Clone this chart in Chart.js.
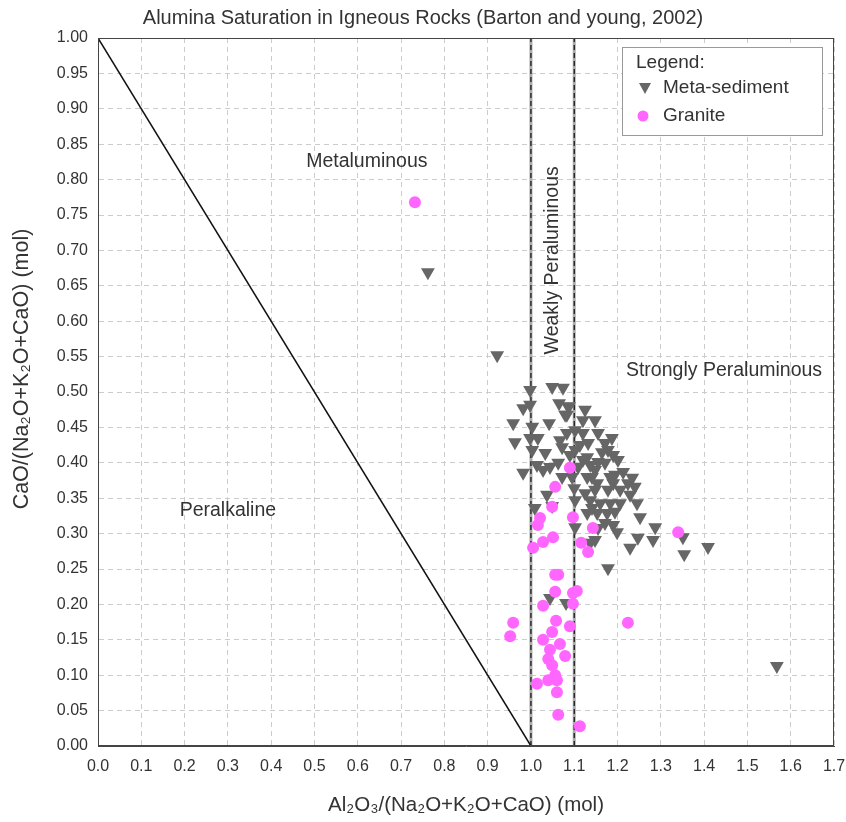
<!DOCTYPE html>
<html>
<head>
<meta charset="utf-8">
<script src="https://cdn.jsdelivr.net/npm/chart.js@4.4.0/dist/chart.umd.min.js"></script>
<style>
  html, body { margin: 0; padding: 0; background: #ffffff; }
  #wrap { width: 846px; height: 822px; }
</style>
</head>
<body>
<div id="wrap"><canvas id="c" width="846" height="822"></canvas></div>
<script>
const chartTitle = 'Alumina Saturation in Igneous Rocks (Barton and young, 2002)';
const xAxisTitle = 'Al\u2082O\u2083/(Na\u2082O+K\u2082O+CaO) (mol)';
const yAxisTitle = 'CaO/(Na\u2082O+K\u2082O+CaO) (mol)';
const seriesNames = ['Meta-sediment', 'Granite'];

const xTickLabels = ['0.0','0.1','0.2','0.3','0.4','0.5','0.6','0.7','0.8','0.9','1.0','1.1','1.2','1.3','1.4','1.5','1.6','1.7'];
const yTickLabels = ['0.00','0.05','0.10','0.15','0.20','0.25','0.30','0.35','0.40','0.45','0.50','0.55','0.60','0.65','0.70','0.75','0.80','0.85','0.90','0.95','1.00'];

// Meta-sediment samples
const metaX = [0.762,0.922,0.998,1.049,1.074,0.982,0.998,1.065,1.088,1.083,0.959,1.003,1.042,0.963,0.998,1.016,1.003,1.033,0.982,1.014,1.028,1.044,1.037,1.049,1.009,1.044,1.081,1.568,
  1.086,1.079,1.120,1.155,1.187,1.102,1.083,1.120,1.132,1.178,1.164,1.072,1.102,1.130,1.155,1.063,1.109,1.148,1.194,1.213,1.183,1.141,1.095,1.234,
  1.153,1.190,1.224,1.240,1.137,1.160,1.183,1.206,1.245,1.130,1.153,1.176,1.194,1.252,1.171,1.190,1.155,1.287,1.199,1.247,1.282,1.148,1.351,1.229,1.354,1.409,1.178,
  1.171,1.100,1.072,1.102,1.141,1.148,1.125,1.102,1.137,1.130,1.120,1.090,1.148,1.171,1.113,1.067,1.137,1.201,1.206,1.229,1.178,1.190,1.125];
const metaY = [0.669,0.552,0.503,0.507,0.506,0.477,0.482,0.484,0.480,0.468,0.456,0.451,0.456,0.429,0.435,0.435,0.418,0.414,0.386,0.397,0.390,0.394,0.355,0.339,0.336,0.209,0.202,0.113,
  0.479,0.468,0.460,0.442,0.435,0.446,0.442,0.442,0.428,0.418,0.415,0.422,0.418,0.408,0.401,0.400,0.394,0.390,0.383,0.387,0.380,0.380,0.380,0.379,
  0.371,0.371,0.371,0.366,0.347,0.343,0.343,0.343,0.343,0.329,0.329,0.329,0.331,0.323,0.315,0.312,0.308,0.309,0.302,0.294,0.291,0.291,0.295,0.280,0.271,0.281,0.251,
  0.400,0.364,0.380,0.347,0.336,0.362,0.357,0.309,0.287,0.380,0.404,0.411,0.460,0.428,0.425,0.432,0.397,0.404,0.362,0.355,0.362,0.411,0.475];

// Granite samples
const graniteX = [0.732,1.056,1.049,1.021,1.016,1.097,1.143,1.051,1.028,1.005,1.116,1.132,1.340,1.056,1.063,1.056,1.097,1.106,1.028,1.097,
  0.959,0.952,1.058,1.090,1.224,1.049,1.028,1.067,1.044,1.079,1.040,1.049,1.056,1.040,1.060,1.014,1.060,1.063,1.113,1.090];
const graniteY = [0.768,0.366,0.338,0.322,0.312,0.323,0.308,0.295,0.288,0.280,0.287,0.274,0.302,0.242,0.242,0.218,0.216,0.219,0.198,0.201,
  0.174,0.155,0.177,0.169,0.174,0.161,0.150,0.144,0.136,0.127,0.123,0.114,0.100,0.093,0.093,0.088,0.076,0.044,0.028,0.393];

// Field boundaries
const peralkalineLineX = [0, 1];
const peralkalineLineY = [1, 0];
const metaluminousLineX = [1.0, 1.0];
const peraluminousLineX = [1.1, 1.1];
const verticalLineY = [0, 1];

// Field labels
const fieldNames = ['Metaluminous', 'Peralkaline', 'Strongly Peraluminous', 'Weakly Peraluminous'];
const fieldX = [0.621, 0.300, 1.446, 1.050];
const fieldY = [0.825, 0.332, 0.530, 0.686];
const fieldRotation = [0, 0, 0, -90];

const zip = (xs, ys) => xs.map((x, i) => ({ x: x, y: ys[i] }));

const FONT = "'Liberation Sans', Arial, sans-serif";
const TEXT = '#333333';
const META_COLOR = '#666666';
const GRANITE_COLOR = '#ff66ff';

const decorPlugin = {
  id: 'decor',
  afterDatasetsDraw(chart) {
    const ctx = chart.ctx;
    const a = chart.chartArea;
    const xs = chart.scales.x, ys = chart.scales.y;
    ctx.save();
    // frame
    ctx.strokeStyle = '#444444';
    ctx.lineWidth = 1;
    ctx.strokeRect(a.left + 0.5, a.top + 0.5, a.right - a.left - 1, a.bottom - a.top - 1);
    // field labels
    ctx.fillStyle = TEXT;
    ctx.font = '19.5px ' + FONT;
    ctx.textAlign = 'center';
    ctx.textBaseline = 'middle';
    fieldNames.forEach((t, i) => {
      const px = xs.getPixelForValue(fieldX[i]);
      const py = ys.getPixelForValue(fieldY[i]);
      ctx.save();
      ctx.translate(px, py);
      ctx.rotate(fieldRotation[i] * Math.PI / 180);
      ctx.fillText(t, 0, 0);
      ctx.restore();
    });
    // legend box
    const bx = a.right - 212, by = a.top + 9, bw = 200, bh = 88;
    ctx.fillStyle = '#ffffff';
    ctx.fillRect(bx, by, bw, bh);
    ctx.strokeStyle = '#999999';
    ctx.strokeRect(bx + 0.5, by + 0.5, bw, bh);
    ctx.fillStyle = TEXT;
    ctx.font = '19px ' + FONT;
    ctx.textAlign = 'left';
    ctx.fillText('Legend:', bx + 14, by + 16);
    ctx.fillText(seriesNames[0], bx + 41, by + 41);
    ctx.fillText(seriesNames[1], bx + 41, by + 69);
    // symbols
    const tx = bx + 23, ty = by + 41;
    ctx.fillStyle = META_COLOR;
    ctx.beginPath();
    ctx.moveTo(tx - 6, ty - 5);
    ctx.lineTo(tx + 6, ty - 5);
    ctx.lineTo(tx, ty + 6);
    ctx.closePath();
    ctx.fill();
    ctx.fillStyle = GRANITE_COLOR;
    ctx.beginPath();
    ctx.arc(bx + 21, by + 69, 5.5, 0, Math.PI * 2);
    ctx.fill();
    // y axis title
    ctx.fillStyle = TEXT;
    ctx.font = '21.5px ' + FONT;
    ctx.textAlign = 'center';
    ctx.translate(22, 369);
    ctx.rotate(-Math.PI / 2);
    ctx.fillText(yAxisTitle, 0, 0);
    ctx.restore();
  }
};

new Chart(document.getElementById('c'), {
  type: 'scatter',
  data: {
    datasets: [
      {
        label: seriesNames[1],
        data: zip(graniteX, graniteY),
        pointStyle: 'circle',
        pointRadius: 6,
        pointBackgroundColor: GRANITE_COLOR,
        pointBorderColor: GRANITE_COLOR,
        pointBorderWidth: 0,
        order: 0
      },
      {
        label: seriesNames[0],
        data: zip(metaX, metaY),
        pointStyle: 'triangle',
        rotation: 180,
        pointRadius: 8,
        pointBackgroundColor: META_COLOR,
        pointBorderColor: META_COLOR,
        pointBorderWidth: 0,
        order: 1
      },
      {
        label: 'Peralkaline boundary',
        type: 'line',
        data: zip(peralkalineLineX, peralkalineLineY),
        borderColor: '#111111',
        borderWidth: 1.5,
        pointRadius: 0,
        fill: false,
        order: 2
      },
      {
        label: 'A/CNK 1.0 dash',
        type: 'line',
        data: zip(metaluminousLineX, verticalLineY),
        borderColor: '#111111',
        borderWidth: 1.2,
        borderDash: [5, 3],
        pointRadius: 0,
        fill: false,
        order: 3
      },
      {
        label: 'A/CNK 1.1 dash',
        type: 'line',
        data: zip(peraluminousLineX, verticalLineY),
        borderColor: '#111111',
        borderWidth: 1.2,
        borderDash: [5, 3],
        pointRadius: 0,
        fill: false,
        order: 3
      },
      {
        label: 'A/CNK 1.0',
        type: 'line',
        data: zip(metaluminousLineX, verticalLineY),
        borderColor: '#aaaaaa',
        borderWidth: 3,
        pointRadius: 0,
        fill: false,
        order: 4
      },
      {
        label: 'A/CNK 1.1',
        type: 'line',
        data: zip(peraluminousLineX, verticalLineY),
        borderColor: '#aaaaaa',
        borderWidth: 3,
        pointRadius: 0,
        fill: false,
        order: 4
      }
    ]
  },
  options: {
    responsive: false,
    animation: false,
    devicePixelRatio: 1,
    layout: { padding: 0 },
    plugins: {
      legend: { display: false },
      tooltip: { enabled: false },
      title: {
        display: true,
        text: chartTitle,
        color: TEXT,
        font: { family: FONT, size: 20, weight: 'normal' },
        padding: { top: 6, bottom: 8 }
      }
    },
    scales: {
      x: {
        type: 'linear',
        min: 0, max: 1.7,
        afterFit: (s) => { s.height = 76; s.paddingLeft = 0; s.paddingRight = 12; },
        ticks: {
          stepSize: 0.1,
          color: TEXT,
          font: { family: FONT, size: 16 },
          padding: 11,
          maxRotation: 0,
          autoSkip: false,
          callback: (v, i) => xTickLabels[i]
        },
        grid: { color: '#cccccc', lineWidth: 1, drawTicks: false },
        border: { display: true, color: '#444444', dash: [5, 4] },
        title: {
          display: true,
          text: xAxisTitle,
          color: TEXT,
          font: { family: FONT, size: 20.5 },
          padding: { top: 0, bottom: 4.7 }
        }
      },
      y: {
        type: 'linear',
        min: 0, max: 1,
        afterFit: (s) => { s.width = 98; s.paddingTop = 0; s.paddingBottom = 0; },
        ticks: {
          stepSize: 0.05,
          color: TEXT,
          font: { family: FONT, size: 16 },
          padding: 10,
          autoSkip: false,
          callback: (v, i) => yTickLabels[i]
        },
        grid: { color: '#cccccc', lineWidth: 1, drawTicks: false },
        border: { display: true, color: '#444444', dash: [5, 4] },
        title: { display: false, text: yAxisTitle }
      }
    }
  },
  plugins: [decorPlugin]
});
</script>
</body>
</html>
